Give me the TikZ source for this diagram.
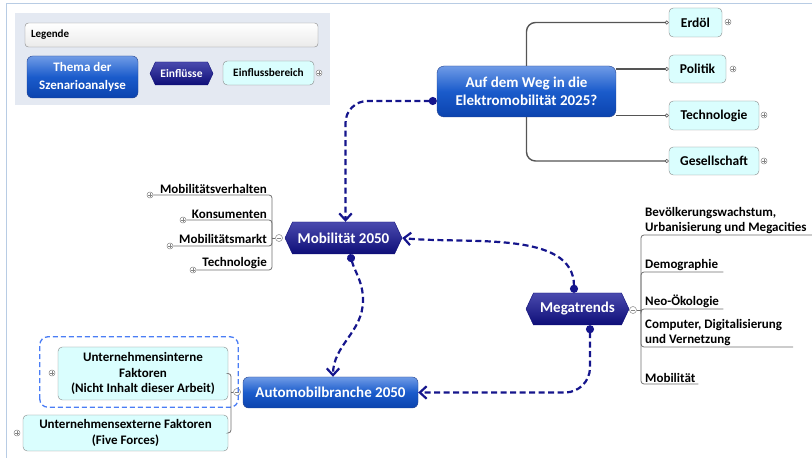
\documentclass[tikz,border=0pt]{standalone}
\usepackage{fontspec}
\setmainfont{Carlito}
\usepackage{tikz}
\usetikzlibrary{arrows.meta,positioning,calc,shapes.symbols}
\definecolor{Frame}{HTML}{B8CCE4}
\definecolor{Panel}{HTML}{E4E9F2}
\definecolor{BlueTop}{HTML}{6F9BE6}
\definecolor{BlueMid}{HTML}{1A5BCB}
\definecolor{BlueBot}{HTML}{0B43AE}
\definecolor{BlueLine}{HTML}{23418C}
\definecolor{NavyTop}{HTML}{4A4AAE}
\definecolor{Navy}{HTML}{0E0E78}
\definecolor{Link}{HTML}{15158C}
\definecolor{Cyan}{HTML}{DAFEFE}
\definecolor{Edge}{HTML}{858585}
\definecolor{Branch}{HTML}{555555}
\definecolor{Mark}{HTML}{4A7DF5}

\begin{document}
\begin{tikzpicture}[x=1pt,y=1pt,
    topic/.style={rectangle,rounded corners=2.5mm,draw=BlueLine,top color=BlueTop,bottom color=BlueBot,middle color=BlueMid,text=white,align=center,inner sep=0pt,font=\fontsize{15}{18}\selectfont\bfseries},
    hexa/.style={signal,signal to=west and east,signal pointer angle=130,draw=Navy,top color=NavyTop,bottom color=Navy,text=white,inner sep=0pt,font=\fontsize{15}{18}\selectfont\bfseries},
    area/.style={rectangle,rounded corners=1.5mm,draw=Edge,fill=Cyan,align=center,inner sep=0pt,font=\fontsize{13.5}{16}\selectfont\bfseries},
    lab/.style={inner xsep=3pt,inner ysep=1.5pt,font=\fontsize{13}{15}\selectfont\bfseries},
    plusmark/.style={circle,draw=Edge,fill=white,minimum size=6pt,inner sep=0pt,line width=0.5pt,
      path picture={\draw[Edge,line width=0.5pt] ([xshift=-1.8pt]path picture bounding box.center) -- ([xshift=1.8pt]path picture bounding box.center) ([yshift=-1.8pt]path picture bounding box.center) -- ([yshift=1.8pt]path picture bounding box.center);}},
    minusmark/.style={circle,draw=Edge,fill=white,minimum size=7pt,inner sep=0pt,line width=0.5pt,
      path picture={\draw[Edge,line width=0.6pt] ([xshift=-2pt]path picture bounding box.center) -- ([xshift=2pt]path picture bounding box.center);}},
    trunk/.style={draw=Branch,line width=1.4pt,rounded corners=9pt,-{Circle[open,length=4pt,width=4pt,fill=white,line width=0.6pt]}},
    twig/.style={draw=Branch!85,line width=0.8pt,rounded corners=3pt},
    link/.style={draw=Link,line width=2.2pt,dash pattern=on 6pt off 3.5pt,{Circle[length=8pt]}-{Straight Barb[length=2.4mm,width=4.4mm]}}
]
\useasboundingbox (0,0) rectangle (812,458);
\draw[Frame,line width=1pt] (6,0) -- (6,454) -- (812,454);

% legend
\node[fill=Panel,minimum width=315pt,minimum height=92pt,inner sep=0pt] (legend) at (172.5,399) {};
\node[rectangle,rounded corners=1.2mm,draw=Edge,top color=white,bottom color=black!8,text width=281pt,minimum height=24pt,inner xsep=6pt,align=left,font=\fontsize{11}{13}\selectfont\bfseries] (legtitle) at (171.5,423) {Legende};
\node[topic,rounded corners=2mm,minimum width=111pt,minimum height=42pt,font=\fontsize{13}{18}\selectfont\bfseries] (legtopic) at (82.5,381) {Thema der\\Szenarioanalyse};
\node[hexa,minimum width=63pt,minimum height=23pt,font=\fontsize{11.5}{13}\selectfont\bfseries] (leginfl) at (181.5,384.5) {Einflüsse};
\node[area,minimum width=91pt,minimum height=24pt,font=\fontsize{11.3}{13}\selectfont\bfseries] (legarea) at (268.5,385) {Einflussbereich};
\node[plusmark] (legplus) at (319,385) {};

% main topic and its branches
\node[topic,minimum width=179pt,minimum height=51pt] (main) at (526.5,366.5) {Auf dem Weg in die\\Elektromobilität 2025?};
\node[area,minimum width=53pt,minimum height=29pt] (erdoel) at (695.5,435.5) {Erdöl};
\node[area,minimum width=57pt,minimum height=28pt] (politik) at (697.5,389) {Politik};
\node[area,minimum width=90pt,minimum height=29pt] (techno) at (714,342.5) {Technologie};
\node[area,minimum width=90pt,minimum height=28pt] (gesell) at (714,297) {Gesellschaft};
\node[plusmark] at (728,436) (perdoel) {};
\node[plusmark] at (733,389) (ppolitik) {};
\node[plusmark] at (764,343) (ptechno) {};
\node[plusmark] at (764,297) (pgesell) {};
\draw[trunk] (main.north) |- (erdoel.west);
\draw[trunk] (main.east |- politik.west) -- (politik.west);
\draw[trunk] (main.east |- techno.west) -- (techno.west);
\draw[trunk] (main.south) |- (gesell.west);

% Mobilitaet 2050
\node[hexa,minimum width=117pt,minimum height=32pt] (mobil) at (343.5,220) {Mobilität 2050};
\node[minusmark] (mobminus) at (279,220) {};
\coordinate (mobfork) at (272,220);
\node[lab,anchor=south east] (verh) at (270,263) {Mobilitätsverhalten};
\node[lab,anchor=south east] (kons) at (270,238) {Konsumenten};
\node[lab,anchor=south east] (markt) at (270,213) {Mobilitätsmarkt};
\node[lab,anchor=south east] (mtech) at (270,188) {Technologie};
\node[plusmark] (pverh) at (150,263) {};
\node[plusmark] (pkons) at (183,238) {};
\node[plusmark] (pmarkt) at (170,212) {};
\node[plusmark] (pmtech) at (193,188) {};
\draw[twig] (mobminus) -- (mobfork);
\draw[twig] (mobfork) |- (pverh.east);
\draw[twig] (mobfork) |- (pkons.east);
\draw[twig] (mobfork) |- (pmarkt.east);
\draw[twig] (mobfork) |- (pmtech.east);

% Megatrends
\node[hexa,minimum width=103pt,minimum height=32pt] (meg) at (577.5,149) {Megatrends};
\node[minusmark] (megminus) at (633,148) {};
\coordinate (megfork) at (641,148);
\node[lab,anchor=south west,align=left] (bev) at (642,223) {Bevölkerungswachstum,\\Urbanisierung und Megacities};
\node[lab,anchor=south west,text width=75pt,align=left] (demo) at (642,186) {Demographie};
\node[lab,anchor=south west,text width=75pt,align=left] (neo) at (642,149) {Neo-Ökologie};
\node[lab,anchor=south west,align=left] (comp) at (642,111) {Computer, Digitalisierung\\und Vernetzung};
\node[lab,anchor=south west] (tmob) at (642,74) {Mobilität};
\draw[twig] (megminus) -- (megfork);
\draw[twig] (megfork) |- ([xshift=4pt]bev.south east);
\draw[twig] (megfork) |- (demo.south east);
\draw[twig] (megfork) |- (neo.south east);
\draw[twig] (megfork) |- ([xshift=8pt]comp.south east);
\draw[twig] (megfork) |- (tmob.south east);

% Automobilbranche 2050
\node[topic,rounded corners=2mm,minimum width=175pt,minimum height=31pt] (auto) at (330.5,65.5) {Automobilbranche 2050};
\node[minusmark] (autominus) at (237,66) {};
\coordinate (autofork) at (231,66);
\node[area,minimum width=170pt,minimum height=53pt,font=\fontsize{13}{15.5}\selectfont\bfseries] (intern) at (143,84.5) {Unternehmensinterne\\Faktoren\\(Nicht Inhalt dieser Arbeit)};
\node[area,minimum width=205pt,minimum height=36pt,font=\fontsize{13}{15.5}\selectfont\bfseries] (extern) at (125.5,25) {Unternehmensexterne Faktoren\\(Five Forces)};
\node[plusmark] (pintern) at (52,85) {};
\node[plusmark] (pextern) at (17,25) {};
\draw[Mark,line width=1.3pt,dash pattern=on 5pt off 3pt,rounded corners=8pt] ([shift={(-18pt,-7pt)}]intern.south west) rectangle ([shift={(10pt,10pt)}]intern.north east);
\draw[twig] (autominus) -- (autofork);
\draw[twig] (autofork) |- (intern.east);
\draw[twig] (autofork) |- (extern.east);

% influences
\draw[link,rounded corners=22pt] ([yshift=-9.5pt]main.west) -| ([xshift=2pt]mobil.north);
\draw[link] ([xshift=6.5pt]mobil.south) to[out=-75,in=90] ++(13,-46) to[out=-90,in=90] ([xshift=2.5pt]auto.north);
\draw[link] ([xshift=-3.5pt]meg.north) to[out=90,in=-6,looseness=0.9] (mobil.east);
\draw[link,rounded corners=25pt] ([xshift=12.5pt]meg.south) |- (auto.east);
\end{tikzpicture}
\end{document}
